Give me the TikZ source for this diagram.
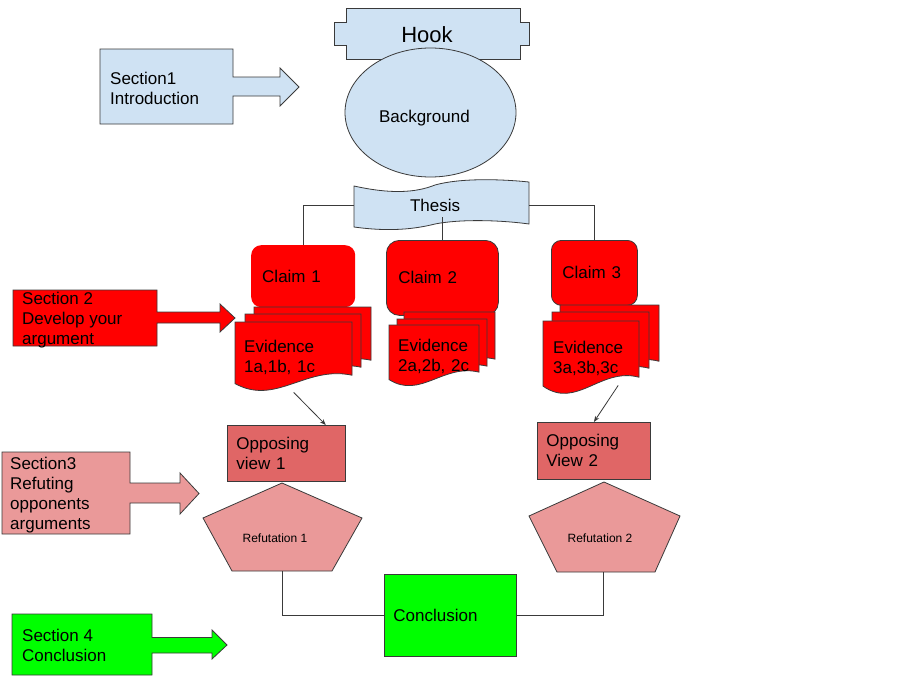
\documentclass[tikz,border=0pt]{standalone}
\usepackage{fontspec}
\setmainfont{Liberation Sans}
\usetikzlibrary{arrows.meta,shapes.geometric}
\definecolor{lblue}{HTML}{CFE2F3}
\definecolor{pred}{HTML}{FF0000}
\definecolor{oppcol}{HTML}{E06666}
\definecolor{refcol}{HTML}{EA9999}
\definecolor{pgreen}{HTML}{00FF00}
\definecolor{bord}{HTML}{3A3A3A}
\newcommand\evdoc[4]{%
  \filldraw[docstyle] (#1,#2) -- ({#1+#3},#2) -- ({#1+#3},{#2+0.76*#4})
    .. controls ({#1+0.6*#3},{#2+0.62*#4}) and ({#1+0.35*#3},{#2+1.2*#4}) ..
    (#1,{#2+0.88*#4}) -- cycle;}
\begin{document}
\begin{tikzpicture}[x=1pt,y=-1pt,
  every node/.style={font=\fontsize{17}{20}\selectfont},
  outl/.style={draw=bord,line width=0.8pt},
  docstyle/.style={outl,fill=pred},
  conn/.style={draw=bord,line width=0.8pt},
  arr/.style={conn,-{Stealth[length=6pt,width=4.5pt]}},
  txtbox/.style={anchor=north west,align=left,inner ysep=0pt},
  small/.style={font=\fontsize{12}{14}\selectfont}]
\useasboundingbox (0,0) rectangle (900,680);
\fill[white] (0,0) rectangle (900,680);

% Hook
\filldraw[outl,fill=lblue] (346,8) -- (520,8) -- (520,22) -- (529,22) -- (529,45) -- (520,45)
  -- (520,59) -- (346,59) -- (346,45) -- (334,45) -- (334,22) -- (346,22) -- cycle;
\node[font=\fontsize{22}{26}\selectfont] (hook) at (427,34.5) {Hook};

% Background
\node[ellipse,outl,fill=lblue,minimum width=171pt,minimum height=129pt,
  text width=103pt,text height=19pt,text depth=0pt,align=left,inner sep=0pt] (bg) at (430.5,112.5) {Background};

% Section arrows
\filldraw[outl,fill=lblue] (100,49) -- (233,49) -- (233,77) -- (280,77) -- (280,68) -- (299,87)
  -- (280,106) -- (280,96) -- (233,96) -- (233,124) -- (100,124) -- cycle;
\node[anchor=west,align=left,inner sep=0pt] (sec1) at (110,88) {Section1\\Introduction};

\filldraw[outl,fill=pred] (13,290) -- (157,290) -- (157,312) -- (220,312) -- (220,304) -- (235,318)
  -- (220,332) -- (220,323) -- (157,323) -- (157,346) -- (13,346) -- cycle;
\node[anchor=west,align=left,inner sep=0pt] (sec2) at (22,320) {Section 2\\Develop your\\argument};

\filldraw[outl,fill=refcol] (2,452) -- (130,452) -- (130,483) -- (180,483) -- (180,473) -- (199,493.5)
  -- (180,514) -- (180,503) -- (130,503) -- (130,534) -- (2,534) -- cycle;
\node[anchor=west,align=left,inner sep=0pt] (sec3) at (10,495) {Section3\\Refuting\\opponents\\arguments};

\filldraw[outl,fill=pgreen] (12,614) -- (152,614) -- (152,637.5) -- (212,637.5) -- (212,630) -- (227,645)
  -- (212,659) -- (212,653) -- (152,653) -- (152,675) -- (12,675) -- cycle;
\node[anchor=west,align=left,inner sep=0pt] (sec4) at (22,645) {Section 4\\Conclusion};

% Thesis
\filldraw[outl,fill=lblue] (354,186) .. controls (390,194) and (415,193) .. (435,185)
  .. controls (460,178) and (500,179) .. (529,182) -- (529,224)
  .. controls (500,220) and (460,219) .. (435,224) .. controls (415,229) and (390,232) .. (354,227) -- cycle;
\node[minimum width=175pt,minimum height=42pt,inner xsep=56pt,text width=63pt,align=left]
  (thesis) at (441.5,205.5) {Thesis};

% Claims
\node[txtbox,fill=pred,rounded corners=10pt,minimum width=104pt,minimum height=62pt,
  inner xsep=11pt,text width=82pt] (claim1) at (251,245) {Claim 1};
\node[txtbox,outl,fill=pred,rounded corners=13pt,minimum width=112pt,minimum height=75pt,
  inner xsep=12pt,text width=88pt] (claim2) at (386,240) {Claim 2};
\node[txtbox,outl,fill=pred,rounded corners=10pt,minimum width=86pt,minimum height=65pt,
  inner xsep=11pt,text width=64pt] (claim3) at (551,240) {Claim 3};

% Thesis connectors
\draw[conn] (thesis.west) -| (claim1.north);
\draw[conn] (thesis.east) -| (claim3.north);
\draw[conn] (claim2.north) -- ++(0,-23);

% Evidence documents
\evdoc{254}{307}{117}{70}\evdoc{245}{314}{116}{70}\evdoc{235}{322}{117}{70}
\evdoc{404}{312}{91}{62}\evdoc{397}{319}{90}{62}\evdoc{389}{325}{90}{62}
\evdoc{560}{305}{99}{74}\evdoc{552}{312}{97}{74}\evdoc{543}{321}{96}{74}
\node[txtbox,minimum width=117pt,minimum height=70pt,inner xsep=9pt,text width=99pt]
  (evid1) at (235,322) {Evidence\\1a,1b, 1c};
\node[txtbox,minimum width=90pt,minimum height=62pt,inner xsep=9pt,text width=72pt]
  (evid2) at (389,325) {Evidence\\2a,2b, 2c};
\node[txtbox,minimum width=96pt,minimum height=74pt,inner xsep=10pt,text width=76pt]
  (evid3) at (543,321) {Evidence\\3a,3b,3c};

% Opposing views
\node[txtbox,outl,fill=oppcol,minimum width=118pt,minimum height=56pt,inner xsep=9pt,text width=100pt]
  (opp1) at (227,425) {Opposing\\view 1};
\node[txtbox,outl,fill=oppcol,minimum width=113pt,minimum height=57pt,inner xsep=9pt,text width=95pt]
  (opp2) at (537,422) {Opposing\\View 2};

\draw[arr] (evid1.south) -- ([xshift=-20pt]opp1.north east);
\draw[arr] ([xshift=27pt,yshift=10pt]evid3.south) -- (opp2.north);

% Refutations
\filldraw[outl,fill=refcol] (282,483) -- (362,518) -- (332,571) -- (232,571) -- (203,518) -- cycle;
\node[small] (ref1) at (275,538) {Refutation 1};
\coordinate (ref1b) at (282,571);
\filldraw[outl,fill=refcol] (604,482) -- (680,516) -- (655,572) -- (557,572) -- (529,516) -- cycle;
\node[small] (ref2) at (600,538.5) {Refutation 2};
\coordinate (ref2b) at (603,572);

% Conclusion
\node[txtbox,outl,fill=pgreen,minimum width=132pt,minimum height=82pt,inner xsep=9pt,text width=114pt]
  (concl) at (384,574) {Conclusion};
\draw[conn] (ref1b) |- (concl.west);
\draw[conn] (concl.east) -| (ref2b);
\end{tikzpicture}
\end{document}
